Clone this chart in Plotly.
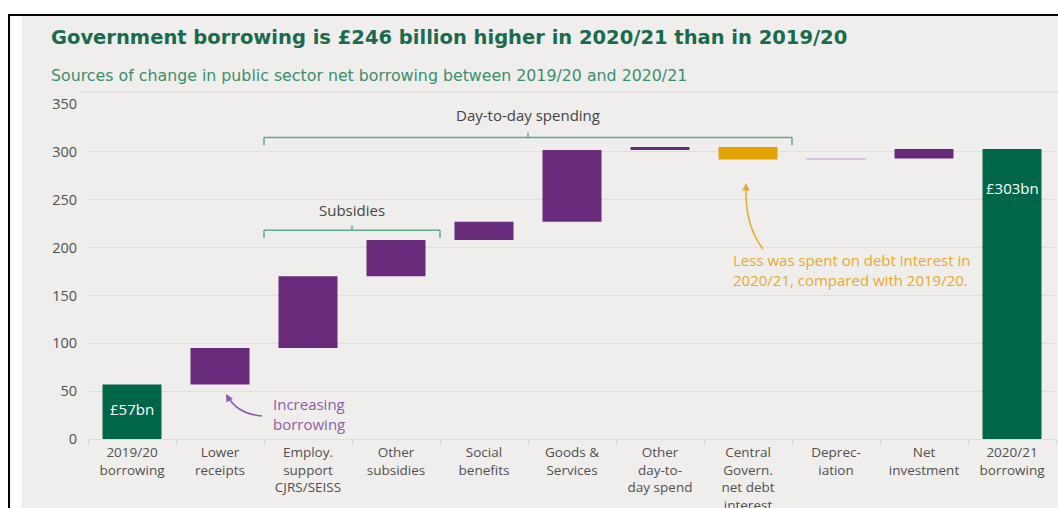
import plotly.graph_objects as go

# ---- data -------------------------------------------------------------
categories = [
    "2019/20<br>borrowing", "Lower<br>receipts", "Employ.<br>support<br>CJRS/SEISS",
    "Other<br>subsidies", "Social<br>benefits", "Goods &<br>Services",
    "Other<br>day-to-<br>day spend", "Central<br>Govern.<br>net debt<br>interest",
    "Deprec-<br>iation", "Net<br>investment", "2020/21<br>borrowing",
]
opening_borrowing = 57          # £bn, 2019/20
changes = [38, 75, 38, 19, 75, 3, -13, 1, 10]   # £bn, sources of change
closing_borrowing = 303         # £bn, 2020/21
y_ticks = [0, 50, 100, 150, 200, 250, 300, 350]

# ---- styling ----------------------------------------------------------
GREEN = "#00664a"
PURPLE = "#682a7b"
GOLD = "#e2a200"
LILAC = "#d6c3df"
BG = "#efeeec"
bar_colors = [GREEN] + [PURPLE] * 6 + [GOLD, LILAC, PURPLE, GREEN]

W, H = 1058, 508
M_L, M_R, M_T, M_B = 88, 2, 104, 69
PW, PH = W - M_L - M_R, H - M_T - M_B


def px(x):
    return (x - M_L) / PW


def py(y):
    return (H - M_B - y) / PH


# waterfall bases and heights
bases, heights = [0], [opening_borrowing]
running = opening_borrowing
for c in changes:
    bases.append(running)
    heights.append(c)
    running += c
bases.append(0)
heights.append(closing_borrowing)

fig = go.Figure(
    go.Bar(
        x=categories, y=heights, base=bases, width=0.67,
        marker=dict(color=bar_colors, line=dict(width=0)),
        hoverinfo="skip",
    )
)

shapes = []
annotations = []

# white frame strips and black border around the panel
shapes += [
    dict(type="rect", xref="paper", yref="paper", x0=px(0), x1=px(W), y0=py(0), y1=py(16),
         fillcolor="white", line=dict(width=0), layer="below"),
    dict(type="rect", xref="paper", yref="paper", x0=px(0), x1=px(22), y0=py(0), y1=py(H),
         fillcolor="white", line=dict(width=0), layer="below"),
    dict(type="line", xref="paper", yref="paper", x0=px(8), x1=px(W), y0=py(15), y1=py(15),
         line=dict(color="black", width=2)),
    dict(type="line", xref="paper", yref="paper", x0=px(9), x1=px(9), y0=py(14), y1=py(H),
         line=dict(color="black", width=2)),
    # faint rule under the heading
    dict(type="line", xref="paper", yref="paper", x0=px(80), x1=px(W), y0=py(92), y1=py(92),
         line=dict(color="#e5e4e2", width=2), layer="below"),
]

# braces grouping categories
BRACE = "#5fa98b"


def brace(x0, x1, y, drop, notch):
    xm = (x0 + x1) / 2
    return [
        dict(type="line", x0=x0, x1=x1, y0=y, y1=y, line=dict(color=BRACE, width=1.5)),
        dict(type="line", x0=x0, x1=x0, y0=y, y1=y - drop, line=dict(color=BRACE, width=1.5)),
        dict(type="line", x0=x1, x1=x1, y0=y, y1=y - drop, line=dict(color=BRACE, width=1.5)),
        dict(type="line", x0=xm, x1=xm, y0=y, y1=y + notch, line=dict(color=BRACE, width=1.5)),
    ]


shapes += brace(1.5, 7.5, 315, 8, 5)
shapes += brace(1.5, 3.5, 218, 8, 5)
for s in shapes[-8:]:
    s.update(xref="x", yref="y")

annotations += [
    dict(x=4.5, y=338, xref="x", yref="y", text="Day-to-day spending", showarrow=False,
         font=dict(size=15, color="#444444")),
    dict(x=2.5, y=239, xref="x", yref="y", text="Subsidies", showarrow=False,
         font=dict(size=15, color="#444444")),
]

# value labels inside the totals
annotations += [
    dict(x=0, y=opening_borrowing / 2 + 3, xref="x", yref="y", text=f"£{opening_borrowing}bn",
         showarrow=False, font=dict(size=15, color="white")),
    dict(x=10, y=closing_borrowing, xref="x", yref="y", text=f"£{closing_borrowing}bn",
         showarrow=False, yanchor="top", yshift=-27, font=dict(size=15, color="white")),
]

# callout: increasing borrowing
CALL_PURPLE = "#8d5ba8"
shapes.append(dict(type="path", xref="paper", yref="paper",
                   path=f"M {px(262)},{py(416)} Q {px(238)},{py(414)} {px(228)},{py(397)}",
                   line=dict(color=CALL_PURPLE, width=1.5)))
annotations += [
    dict(x=px(226), y=py(394), xref="paper", yref="paper", ax=4, ay=7, text="",
         showarrow=True, arrowhead=2, arrowsize=1, arrowwidth=1.5, arrowcolor=CALL_PURPLE),
    dict(x=px(271), y=py(414), xref="paper", yref="paper", xanchor="left", yanchor="middle",
         align="left", text="Increasing<br>borrowing", showarrow=False,
         font=dict(size=15, color=CALL_PURPLE)),
]

# callout: debt interest
CALL_GOLD = "#e5aa2e"
shapes.append(dict(type="path", xref="paper", yref="paper",
                   path=f"M {px(763)},{py(249)} Q {px(745)},{py(226)} {px(746)},{py(188)}",
                   line=dict(color=CALL_GOLD, width=1.5)))
annotations += [
    dict(x=px(746), y=py(183), xref="paper", yref="paper", ax=0, ay=8, text="",
         showarrow=True, arrowhead=2, arrowsize=1, arrowwidth=1.5, arrowcolor=CALL_GOLD),
    dict(x=px(731), y=py(270), xref="paper", yref="paper", xanchor="left", yanchor="middle",
         align="left", text="Less was spent on debt interest in<br>2020/21, compared with 2019/20.",
         showarrow=False, font=dict(size=15, color=CALL_GOLD)),
]

# heading
annotations += [
    dict(x=px(49), y=py(37), xref="paper", yref="paper", xanchor="left", yanchor="middle",
         text="<b>Government borrowing is £246 billion higher in 2020/21 than in 2019/20</b>",
         showarrow=False, font=dict(family="DejaVu Sans", size=19.5, color="#1a6b4e")),
    dict(x=px(49), y=py(75), xref="paper", yref="paper", xanchor="left", yanchor="middle",
         text="Sources of change in public sector net borrowing between 2019/20 and 2020/21",
         showarrow=False, font=dict(family="DejaVu Sans", size=15.8, color="#3a8e6b")),
]

fig.update_layout(
    width=W, height=H,
    margin=dict(l=M_L, r=M_R, t=M_T, b=M_B, pad=0, autoexpand=False),
    paper_bgcolor=BG, plot_bgcolor=BG,
    font=dict(family="Open Sans, sans-serif", size=14, color="#505050"),
    showlegend=False,
    bargap=0.33,
    shapes=shapes,
    annotations=annotations,
    xaxis=dict(
        type="category", tickson="boundaries", ticks="outside", ticklen=5,
        tickcolor="#d9d8d6", showgrid=False, showline=True, linecolor="#dedddb",
        linewidth=1, ticklabelstandoff=1, tickfont=dict(size=13.5, color="#505050"),
        automargin=False, fixedrange=True,
    ),
    yaxis=dict(
        range=[0, 350], tickvals=y_ticks, showgrid=True, gridcolor="#e0dfdd",
        gridwidth=1, zeroline=False, showline=False, ticks="",
        ticklabelstandoff=10, tickfont=dict(size=14.5, color="#505050"),
        automargin=False, fixedrange=True,
    ),
)

fig.write_html("out.html", config={"displayModeBar": False})
